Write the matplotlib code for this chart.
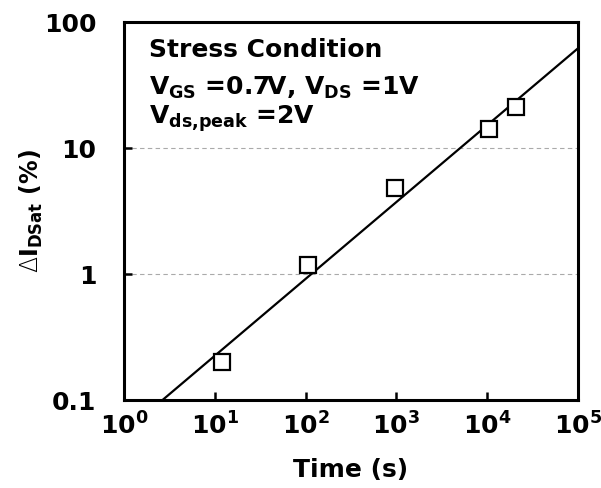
import matplotlib
matplotlib.use("Agg")
import matplotlib.pyplot as plt
import numpy as np
from matplotlib.ticker import LogFormatterMathtext, NullLocator, FixedLocator

# --- данные ---
time_s = [12, 105, 970, 10500, 20600]
delta_idsat = [0.2, 1.18, 4.8, 14.2, 21.3]

# степенная аппроксимация dI = A * t^n
fit_A = 0.0551
fit_n = 0.61

FS = 18
plt.rcParams['font.family'] = ['DejaVu Sans']
plt.rcParams['font.weight'] = 'bold'
plt.rcParams['mathtext.fontset'] = 'custom'
plt.rcParams['mathtext.rm'] = 'DejaVu Sans:weight=light'
plt.rcParams['mathtext.bf'] = 'DejaVu Sans:bold'
plt.rcParams['mathtext.default'] = 'bf'

fig = plt.figure(figsize=(6.01, 4.88), dpi=100)
ax = fig.add_axes([0.2063, 0.1803, 0.7554, 0.7746])

t_fit = np.array([1.0, 1e5])
ax.plot(t_fit, fit_A * t_fit ** fit_n, color='black', lw=1.6, zorder=3)
ax.plot(time_s, delta_idsat, 's', ms=11.5, mfc='white', mec='black', mew=1.6, zorder=4)

ax.set_xscale('log')
ax.set_yscale('log')
ax.set_xlim(1, 1e5)
ax.set_ylim(0.1, 100)

ax.xaxis.set_minor_locator(NullLocator())
ax.yaxis.set_minor_locator(NullLocator())
ax.yaxis.set_major_locator(FixedLocator([0.1, 1, 10, 100]))
ax.set_yticklabels(['0.1', '1', '10', '100'])
ax.xaxis.set_major_formatter(LogFormatterMathtext())

ax.yaxis.grid(True, ls=(0, (4, 3)), color='#aaaaaa', lw=0.8)
ax.set_axisbelow(True)

for sp in ax.spines.values():
    sp.set_linewidth(2.2)

ax.tick_params(axis='both', which='major', direction='in', length=6, width=1.8,
               labelsize=FS)
ax.tick_params(axis='x', pad=9)
ax.tick_params(axis='y', pad=20)

ax.set_xlabel('Time (s)', fontsize=FS, fontweight='bold', labelpad=13)
ax.set_ylabel(r'$\mathrm{\Delta}$I$_{DSat}$ (%)', fontsize=17, fontweight='bold', labelpad=-1)

ax.text(0.055, 0.907, 'Stress Condition', transform=ax.transAxes,
        fontsize=FS, fontweight='bold', va='baseline')
ax.text(0.055, 0.807, r'V$_{GS}$ =0.7V, V$_{DS}$ =1V', transform=ax.transAxes,
        fontsize=FS, fontweight='bold', va='baseline')
ax.text(0.055, 0.730, r'V$_{ds{,}peak}$ =2V', transform=ax.transAxes,
        fontsize=FS, fontweight='bold', va='baseline')

fig.savefig('out.png', dpi=100)
